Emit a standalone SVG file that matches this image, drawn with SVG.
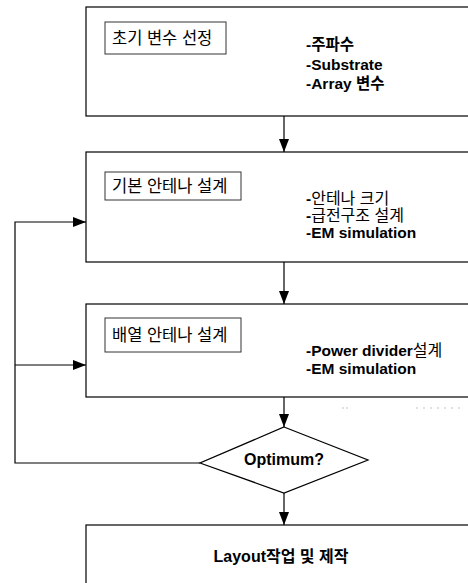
<svg xmlns="http://www.w3.org/2000/svg" width="468" height="583" viewBox="0 0 468 583">
<defs>
<style>
.box{fill:#fff;stroke:#000;stroke-width:1.2}
.lbl{fill:#fff;stroke:#333;stroke-width:1}
.ln{fill:none;stroke:#000;stroke-width:1.2}
text{font-family:"Liberation Sans","Noto Sans CJK KR",sans-serif;fill:#000}
.lt{font-size:16.5px}
.it{font-size:15.5px;font-weight:bold}
.kn{font-weight:normal;font-size:16px}
.dot{fill:#aaa}
</style>
<marker id="ah" markerUnits="userSpaceOnUse" markerWidth="14" markerHeight="10" refX="13" refY="5" orient="auto">
<path d="M0,0 L13,5 L0,10 Z" fill="#000"/>
</marker>
</defs>
<g id="node-init">
<rect class="box" x="86" y="7" width="400" height="109"/>
<rect class="lbl" x="105" y="22" width="121" height="32"/>
<text class="lt" x="112" y="44">초기 변수 선정</text>
<text class="it" x="306" y="50">-주파수</text>
<text class="it" x="306" y="70">-Substrate</text>
<text class="it" x="306" y="89">-Array 변수</text>
</g>
<g id="node-basic">
<rect class="box" x="86" y="152" width="400" height="110"/>
<rect class="lbl" x="105" y="172" width="136" height="28"/>
<text class="lt" x="112" y="192">기본 안테나 설계</text>
<text class="it" x="306" y="204">-<tspan class="kn">안테나 크기</tspan></text>
<text class="it" x="306" y="221">-<tspan class="kn">급전구조 설계</tspan></text>
<text class="it" x="306" y="238">-EM simulation</text>
</g>
<g id="node-array">
<rect class="box" x="86" y="304" width="400" height="93"/>
<rect class="lbl" x="105" y="318" width="136" height="34"/>
<text class="lt" x="112" y="341">배열 안테나 설계</text>
<text class="it" x="306" y="356">-Power divider<tspan class="kn">설계</tspan></text>
<text class="it" x="306" y="374">-EM simulation</text>
</g>
<g id="node-optimum">
<polygon class="box" points="284,427 368,460 284,493 200,463"/>
<text x="284" y="465" font-size="16" font-weight="bold" text-anchor="middle">Optimum?</text>
</g>
<g id="node-layout">
<rect class="box" x="86" y="525" width="400" height="80"/>
<text x="281" y="562" font-size="16" font-weight="bold" text-anchor="middle">Layout작업 및 제작</text>
</g>
<g id="connectors">
<line class="ln" x1="284" y1="116" x2="284" y2="152" marker-end="url(#ah)"/>
<line class="ln" x1="284" y1="262" x2="284" y2="304" marker-end="url(#ah)"/>
<line class="ln" x1="284" y1="397" x2="284" y2="427" marker-end="url(#ah)"/>
<line class="ln" x1="284" y1="493" x2="284" y2="525" marker-end="url(#ah)"/>
<polyline class="ln" points="200,463 15,463 15,222 86,222" marker-end="url(#ah)"/>
<line class="ln" x1="15" y1="365" x2="86" y2="365" marker-end="url(#ah)"/>
</g>
<g id="specks">
<circle class="dot" cx="343" cy="408" r="0.7"/>
<circle class="dot" cx="347" cy="408" r="0.7"/>
<circle class="dot" cx="417" cy="408" r="0.7"/>
<circle class="dot" cx="424" cy="408" r="0.7"/>
<circle class="dot" cx="431" cy="408" r="0.7"/>
<circle class="dot" cx="438" cy="408" r="0.7"/>
<circle class="dot" cx="445" cy="408" r="0.7"/>
<circle class="dot" cx="452" cy="408" r="0.7"/>
<circle class="dot" cx="459" cy="408" r="0.7"/>
</g>
</svg>
